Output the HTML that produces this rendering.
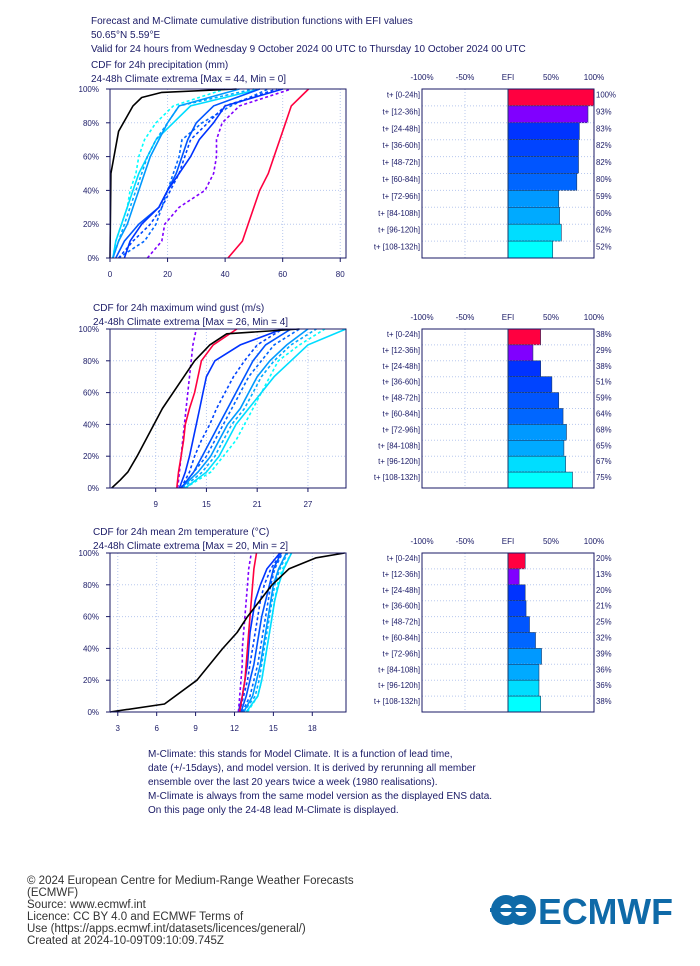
<!DOCTYPE html>
<html><head><meta charset="utf-8"><style>
body{margin:0;background:#fff;width:700px;height:966px;overflow:hidden;font-family:"Liberation Sans",sans-serif}
svg{position:absolute;left:0;top:0}
</style></head><body>
<svg id="s" width="700" height="966" font-family="Liberation Sans, sans-serif"></svg>
<script>
const leadLabels=['t+ [0-24h]','t+ [12-36h]','t+ [24-48h]','t+ [36-60h]','t+ [48-72h]','t+ [60-84h]','t+ [72-96h]','t+ [84-108h]','t+ [96-120h]','t+ [108-132h]'];
const seriesColors=['#ff0040','#8000ff','#0033ff','#0044ff','#0055ff','#0066ff','#0099ff','#00aaff','#00ddff','#00ffff'];
const ensP=[0,10,20,30,40,50,60,70,80,90,100];
const efi1=[100,93,83,82,82,80,59,60,62,52];
const efi2=[38,29,38,51,59,64,68,65,67,75];
const efi3=[20,13,20,21,25,32,39,36,36,38];
const climP1=[0,50,75,90,95,98,100];
const climX1=[0,0.3,3,8,11,18,44];
const ens1=[
[41,46,48,50,52,55,57,59,61,63,69],
[13,18,19,24,33,36,37,37,39,45,63],
[5,7,11,17,20,24,28,31,36,40,60],
[3,8,14,18,21,24,26,28,34,40,58],
[2,5,10,17,20,23,25,27,30,36,52],
[3,12,16,18,20,22,24,25,32,42,55],
[1,3,6,8,10,12,14,17,20,24,45],
[1,3,5,7,9,11,13,16,20,24,50],
[1,2,4,6,8,10,13,16,22,28,52],
[1,2,4,6,7,9,10,12,16,22,40]];
const climP2=[0,5,10,20,50,80,90,97,100];
const climX2=[3.8,4.8,5.7,6.8,9.8,13.6,15.4,17.4,26];
const ens2=[
[11.5,11.7,12,12.3,12.5,13,13.6,14,14.4,15.8,18.6],
[11.6,11.8,12,12.2,12.4,12.6,12.8,13,13.2,13.4,13.8],
[11.8,12.5,13,13.4,13.8,14.2,14.6,15,16,19,24],
[12,13,13.6,14.4,15.4,16.2,17.2,18.2,19.5,21,24],
[12,13.5,14.5,15.5,16.5,17.5,18.5,19.5,20.5,22,25],
[12,13.5,15,16,17,18,19,20,21.5,23,26],
[12,14,15.5,16.5,17.5,19,20,21,22.5,24.5,27],
[12.2,14.5,16,17,18,19.5,20.5,21.5,23,25,28],
[12.5,15,16.5,17.5,18.5,20,21.5,23,25,27,31.5],
[12.5,15.5,17,18.5,19.5,20.5,21.5,22.5,23.5,26,29]];
const climP3=[0,5,20,40,50,60,80,90,97,100];
const climX3=[2.4,6.6,9.1,11.1,12.2,13.0,14.9,16.2,18.3,20.5];
const ens3=[
[12.4,12.6,12.8,12.9,13,13.1,13.2,13.3,13.4,13.5,13.7],
[12.3,12.4,12.5,12.6,12.6,12.7,12.8,12.9,13,13.1,13.3],
[12.3,12.6,12.8,13,13.1,13.2,13.4,13.6,14,14.5,15.5],
[12.4,12.7,13,13.2,13.4,13.6,13.8,14,14.3,14.8,15.6],
[12.5,12.9,13.2,13.5,13.7,13.9,14.1,14.4,14.7,15,15.6],
[12.6,13.2,13.5,13.8,14,14.2,14.4,14.6,14.8,15.1,15.7],
[12.7,13.4,13.7,14,14.2,14.4,14.6,14.8,15,15.4,16],
[12.7,13.6,13.9,14.1,14.3,14.5,14.7,14.9,15.1,15.5,16.1],
[12.9,13.8,14.1,14.3,14.5,14.7,14.9,15.1,15.4,15.8,16.4],
[13,13.8,14.1,14.3,14.5,14.7,14.9,15.1,15.3,15.7,16.4]];
const xt1=[0,20,40,60,80], xt2=[9,15,21,27], xt3=[3,6,9,12,15,18];
const yTicks=[0,20,40,60,80,100];
const efiTicks=[-100,-50,0,50,100];
const efiTickLabels=['-100%','-50%','EFI','50%','100%'];

const S=document.getElementById('s');const NS='http://www.w3.org/2000/svg';
const TXT='#1a1a66';
function el(t,a,p){const e=document.createElementNS(NS,t);for(const k in a)e.setAttribute(k,a[k]);(p||S).appendChild(e);return e;}
function text(x,y,s,o){const e=el('text',Object.assign({x:x,y:y,'font-size':10,fill:TXT},o||{}));e.textContent=s;return e;}

function cdfPanel(name,top,xmin,xmax,xt,climP,climX,ens){
  const L=110,R=346,T=top,B=top+(name==='precip'?169:159);
  const g=el('g',{});
  
  
  const sx=v=>L+(v-xmin)/(xmax-xmin)*(R-L), sy=p=>B-p/100*(B-T);
  yTicks.forEach(p=>{
    if(p>0&&p<100)el('line',{x1:L,x2:R,y1:sy(p),y2:sy(p),stroke:'#b8c8ee','stroke-dasharray':'1,2','stroke-width':1},g);
    el('line',{x1:L-4,x2:L,y1:sy(p),y2:sy(p),stroke:'#1a1a66'},g);
    const t=text(99,sy(p)+3,p+'%',{'font-size':8,'text-anchor':'end'});g.appendChild(t);
    
  });
  xt.forEach(v=>{
    el('line',{x1:sx(v),x2:sx(v),y1:T,y2:B,stroke:'#b8c8ee','stroke-dasharray':'1,2'},g);
    el('line',{x1:sx(v),x2:sx(v),y1:B,y2:B+4,stroke:'#1a1a66'},g);
    const t=text(sx(v),B+19,String(v),{'font-size':8,'text-anchor':'middle'});g.appendChild(t);
    
  });
  for(let i=ens.length-1;i>=0;i--){
    const d=ens[i].map((v,j)=>(j?'L':'M')+sx(v).toFixed(1)+','+sy(ensP[j]).toFixed(1)).join('');
    const a={d:d,fill:'none',stroke:seriesColors[i],'stroke-width':1.6};
    if(i%2===1)a['stroke-dasharray']='3,2.5';
    const p=el('path',a,g);
    
    
  }
  const cd=climX.map((v,j)=>(j?'L':'M')+sx(v).toFixed(1)+','+sy(climP[j]).toFixed(1)).join('');
  const c=el('path',{d:cd,fill:'none',stroke:'#000','stroke-width':1.6,'stroke-linejoin':'round'},g);
  
  
  el('rect',{x:L,y:T,width:R-L,height:B-T,fill:'none',stroke:'#1a1a66','stroke-width':1},g);
}
function efiPanel(name,top,vals){
  const L=422,R=594,T=top,H=(name==='precip'?169:159),B=T+H,rh=H/10;
  const g=el('g',{});
  
  
  const sx=v=>L+(v+100)/200*(R-L);
  efiTicks.forEach((v,i)=>{
    const t=text(sx(v),T-9,efiTickLabels[i],{'font-size':8,'text-anchor':'middle'});g.appendChild(t);
    
  });
  el('line',{x1:sx(-50),x2:sx(-50),y1:T,y2:B,stroke:'#b8c8ee','stroke-dasharray':'1,2'},g);
  vals.forEach((v,i)=>{
    const y=T+i*rh;
    if(i>0)el('line',{x1:L,x2:R,y1:y,y2:y,stroke:'#b8c8ee','stroke-dasharray':'1,2'},g);
    const r=el('rect',{x:sx(0),y:y,width:sx(v)-sx(0),height:rh,fill:seriesColors[i],stroke:'#1a3a6a','stroke-width':0.6},g);
    
    
    const l=text(420,y+rh/2,leadLabels[i],{'font-size':7.8,'text-anchor':'end'});g.appendChild(l);
    
    const vl=text(596,y+rh/2,v+'%',{'font-size':7.8});g.appendChild(vl);
    
  });
  el('line',{x1:sx(0),x2:sx(0),y1:T,y2:B,stroke:'#1a3a6a'},g);
  el('rect',{x:L,y:T,width:R-L,height:H,fill:'none',stroke:'#1a1a66'},g);
}
cdfPanel('precip',89,0,82,xt1,climP1,climX1,ens1);
efiPanel('precip',89,efi1);
cdfPanel('gust',329,3.6,31.5,xt2,climP2,climX2,ens2);
efiPanel('gust',329,efi2);
cdfPanel('temp',553,2.4,20.6,xt3,climP3,climX3,ens3);
efiPanel('temp',553,efi3);

const lines=[[91,24,'Forecast and M-Climate cumulative distribution functions with EFI values','header-title'],
[91,38,'50.65°N 5.59°E','header-location'],
[91,52,'Valid for 24 hours from Wednesday 9 October 2024 00 UTC to Thursday 10 October 2024 00 UTC','header-validity'],
[91,68,'CDF for 24h precipitation (mm)','precip-title'],
[91,82,'24-48h Climate extrema [Max = 44, Min = 0]','precip-extrema'],
[93,311,'CDF for 24h maximum wind gust (m/s)','gust-title'],
[93,325,'24-48h Climate extrema [Max = 26, Min = 4]','gust-extrema'],
[93,535,'CDF for 24h mean 2m temperature (°C)','temp-title'],
[93,549,'24-48h Climate extrema [Max = 20, Min = 2]','temp-extrema'],
[148,757,'M-Climate: this stands for Model Climate. It is a function of lead time,','note-1'],
[148,771,'date (+/-15days), and model version. It is derived by rerunning all member','note-2'],
[148,785,'ensemble over the last 20 years twice a week (1980 realisations).','note-3'],
[148,799,'M-Climate is always from the same model version as the displayed ENS data.','note-4'],
[148,813,'On this page only the 24-48 lead M-Climate is displayed.','note-5']];
lines.forEach(l=>{const t=text(l[0],l[1],l[2]);
});
const foot=['© 2024 European Centre for Medium-Range Weather Forecasts','(ECMWF)','Source: www.ecmwf.int','Licence: CC BY 4.0 and ECMWF Terms of','Use (https://apps.ecmwf.int/datasets/licences/general/)','Created at 2024-10-09T09:10:09.745Z'];
foot.forEach((s,i)=>{const t=text(27,884+i*12,s,{'font-size':11.5,fill:'#333'});
});
const lg=el('g',{});


el('circle',{cx:506,cy:910,r:15,fill:'#0f6aa8'},lg);
el('circle',{cx:521,cy:910,r:15,fill:'#0f6aa8'},lg);
el('circle',{cx:506,cy:910,r:6,fill:'#fff'},lg);
el('circle',{cx:521,cy:910,r:6,fill:'#fff'},lg);
el('rect',{x:490,y:908,width:40,height:4,fill:'#0f6aa8'},lg);
const lt=text(538,924,'ECMWF',{'font-size':36,'font-weight':'bold',fill:'#0f6aa8',textLength:135,lengthAdjust:'spacingAndGlyphs'});lg.appendChild(lt);
</script>
</body></html>
